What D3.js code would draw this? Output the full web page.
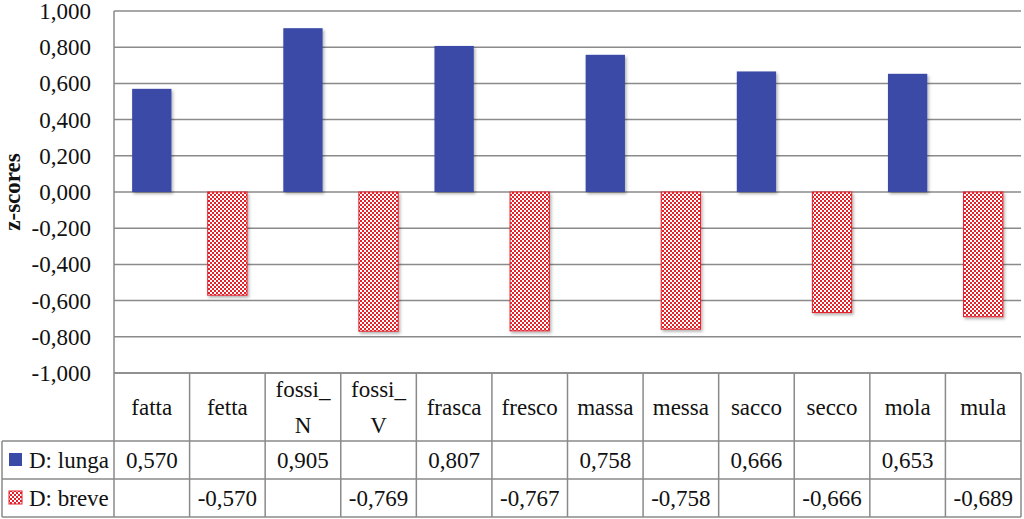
<!DOCTYPE html>
<html><head><meta charset="utf-8">
<script src="https://cdn.jsdelivr.net/npm/d3@7"></script>
<style>html,body{margin:0;padding:0;background:#fff;}svg{display:block;}
svg text{font-family:"Liberation Serif","Times New Roman",Times,serif !important;}</style>
</head><body>
<svg id="c" width="1024" height="519"></svg>
<script>
const categories = ["fatta","fetta","fossi_\nN","fossi_\nV","frasca","fresco","massa","messa","sacco","secco","mola","mula"];
const lunga = [0.570, null, 0.905, null, 0.807, null, 0.758, null, 0.666, null, 0.653, null];
const breve = [null, -0.570, null, -0.769, null, -0.767, null, -0.758, null, -0.666, null, -0.689];
const seriesNames = ["D: lunga", "D: breve"];
const yTicks = [1, 0.8, 0.6, 0.4, 0.2, 0, -0.2, -0.4, -0.6, -0.8, -1];
const yTitle = "z-scores";

const m = {left: 114, right: 1021, top: 11, bottom: 373};
const tableLeft = 2, row1 = 441, row2 = 479, tableBottom = 517;
const blue = "#3a4aa7", red = "#e3202b", grid = "#8a8a8a";

const loc = d3.formatLocale({decimal: ",", thousands: ".", grouping: [3], currency: ["", ""], minus: "-"});
const fmt = loc.format(".3f");

const svg = d3.select("#c");
const defs = svg.append("defs");
const pat = defs.append("pattern").attr("id","chk").attr("patternUnits","userSpaceOnUse")
  .attr("width",4).attr("height",4);
pat.append("rect").attr("width",4).attr("height",4).attr("fill","#fff");
pat.append("rect").attr("x",0).attr("y",0).attr("width",2).attr("height",2).attr("fill",red);
pat.append("rect").attr("x",2).attr("y",2).attr("width",2).attr("height",2).attr("fill",red);
const f = defs.append("filter").attr("id","sh").attr("x","-20%").attr("y","-20%").attr("width","150%").attr("height","150%");
f.append("feDropShadow").attr("dx",1.5).attr("dy",2).attr("stdDeviation",1.5).attr("flood-color","#000").attr("flood-opacity",0.3);

const x = d3.scaleBand().domain(d3.range(categories.length)).range([m.left, m.right]).paddingInner(0).paddingOuter(0);
const y = d3.scaleLinear().domain([-1, 1]).range([m.bottom, m.top]);

svg.append("g").selectAll("line").data(yTicks).join("line")
  .attr("x1", m.left).attr("x2", m.right)
  .attr("y1", d => y(d)).attr("y2", d => y(d))
  .attr("stroke", grid).attr("stroke-width", 1.5);

const yAxis = d3.axisLeft(y).tickValues(yTicks).tickFormat(fmt).tickSize(0).tickPadding(0);
const ga = svg.append("g").attr("transform", `translate(91,0)`).call(yAxis);
ga.select(".domain").remove();
ga.attr("font-family", null).attr("font-size", null);
ga.selectAll("text").attr("font-size", 23).attr("fill", "#111").attr("dy","0.33em");

svg.append("text").attr("transform", `translate(20,${y(0)}) rotate(-90)`)
  .attr("text-anchor","middle").attr("font-weight","bold")
  .attr("font-size", 23).attr("fill","#111").text(yTitle);

const bw = x.bandwidth() * 0.52;
const gb = svg.append("g");
gb.selectAll("rect.l").data(lunga.map((v,i)=>({v,i})).filter(d=>d.v!==null)).join("rect")
  .attr("class","l")
  .attr("x", d => x(d.i) + (x.bandwidth()-bw)/2).attr("width", bw)
  .attr("y", d => y(d.v)).attr("height", d => y(0) - y(d.v))
  .attr("fill", blue).attr("filter","url(#sh)");
gb.selectAll("rect.b").data(breve.map((v,i)=>({v,i})).filter(d=>d.v!==null)).join("rect")
  .attr("class","b")
  .attr("x", d => x(d.i) + (x.bandwidth()-bw)/2).attr("width", bw)
  .attr("y", y(0)).attr("height", d => y(d.v) - y(0))
  .attr("fill", "url(#chk)").attr("stroke", red).attr("stroke-width", 1).attr("filter","url(#sh)");

svg.append("line").attr("x1", m.left).attr("x2", m.left).attr("y1", m.top).attr("y2", m.bottom)
  .attr("stroke", grid).attr("stroke-width", 1.5);

const gt = svg.append("g").attr("stroke", grid).attr("stroke-width", 1.5);
gt.append("line").attr("x1", m.left).attr("x2", m.right).attr("y1", m.bottom).attr("y2", m.bottom);
[row1, row2, tableBottom].forEach(yy => gt.append("line").attr("x1", tableLeft).attr("x2", m.right).attr("y1", yy).attr("y2", yy));
gt.append("line").attr("x1", tableLeft).attr("x2", tableLeft).attr("y1", row1).attr("y2", tableBottom);
d3.range(categories.length + 1).forEach(i => {
  const xx = i < categories.length ? x(i) : m.right;
  gt.append("line").attr("x1", xx).attr("x2", xx).attr("y1", m.bottom).attr("y2", tableBottom);
});

const gh = svg.append("g").attr("font-size", 23).attr("fill","#111").attr("text-anchor","middle");
categories.forEach((c, i) => {
  const lines = c.split("\n");
  const cx = x(i) + x.bandwidth()/2;
  const mid = (m.bottom + row1)/2;
  const lh = 36;
  lines.forEach((t, k) => {
    gh.append("text").attr("x", cx).attr("y", mid + (k - (lines.length-1)/2)*lh).attr("dy","0.33em").text(t);
  });
});

const rows = [lunga, breve];
const rowTops = [row1, row2];
rows.forEach((arr, r) => {
  const cy = (rowTops[r] + (r === 0 ? row2 : tableBottom)) / 2;
  arr.forEach((v, i) => {
    if (v === null) return;
    gh.append("text").attr("x", x(i) + x.bandwidth()/2).attr("y", cy).attr("dy","0.33em").text(fmt(v));
  });
  const sw = svg.append("rect").attr("x", 9).attr("y", cy - 7).attr("width", 13).attr("height", 13);
  if (r === 0) sw.attr("fill", blue);
  else sw.attr("fill","url(#chk)").attr("stroke", red).attr("stroke-width",1);
  svg.append("text").attr("x", 29).attr("y", cy).attr("dy","0.33em")
    .attr("font-size", 23).attr("fill","#111").text(seriesNames[r]);
});
</script>
</body></html>
